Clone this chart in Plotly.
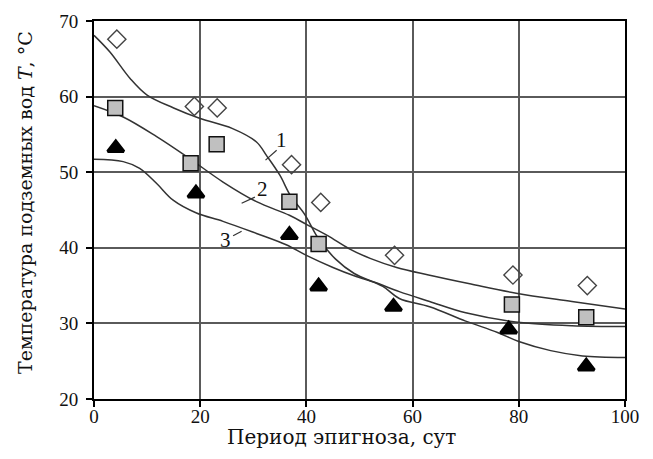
import plotly.graph_objects as go

# Markers
days_diamond = [4.3, 18.9, 23.2, 37.2, 42.7, 56.6, 78.9, 92.9]
temp_diamond = [67.6, 58.7, 58.5, 51.0, 46.0, 39.0, 36.4, 35.0]

days_square = [4.0, 18.2, 23.1, 36.8, 42.3, 78.7, 92.7]
temp_square = [58.5, 51.2, 53.7, 46.1, 40.5, 32.5, 30.8]

days_tri = [4.1, 19.2, 36.8, 42.3, 56.4, 78.1, 92.7]
temp_tri = [53.2, 47.2, 41.7, 34.9, 32.2, 29.2, 24.3]

# Curves (traced)
c1_x = [0, 3, 6.8, 10, 15, 20, 26, 30.6, 32.5, 35, 37, 39.7, 42.2, 45.5, 49, 54.4, 57.5, 63.2, 70, 76, 80, 86, 92, 100]
c1_y = [68.1, 65.9, 62.4, 60.2, 58.5, 57.1, 55.8, 54.0, 52.2, 49.6, 46.9, 44.4, 41.3, 38.5, 36.6, 34.9, 33.3, 32.2, 30.3, 28.8, 27.6, 26.4, 25.7, 25.5]

c2_x = [0, 5.5, 11.8, 18, 24.3, 30.6, 36.8, 40, 44, 48, 52, 57, 63, 71, 79.5, 90, 100]
c2_y = [58.8, 57.3, 54.7, 51.8, 48.7, 46.1, 44.3, 43.1, 41.6, 39.9, 38.6, 37.4, 36.4, 35.2, 34.0, 32.9, 31.9]

c3_x = [0, 5.5, 8.6, 11.8, 14.9, 19.3, 24.3, 30.6, 36.2, 40, 45, 49, 53, 57.5, 63.2, 70, 79.4, 90, 100]
c3_y = [51.7, 51.4, 50.5, 48.5, 46.3, 44.6, 43.5, 41.9, 40.4, 39.0, 37.4, 36.3, 35.4, 34.2, 32.9, 31.4, 30.2, 29.7, 29.6]

# curve labels: (text, x, y of label, leader from, leader to)
labels = ["1", "2", "3"]
label_x = [35.3, 31.7, 24.7]
label_y = [54.3, 47.8, 41.0]
lead_x0 = [34.4, 30.3, 26.2]
lead_y0 = [52.9, 46.7, 41.6]
lead_x1 = [32.3, 27.8, 27.8]
lead_y1 = [51.6, 45.9, 42.2]

x_title = "Период эпигноза, сут"
y_title = "Температура подземных вод <i>T</i>, °C"

LINE = "#333333"
fig = go.Figure()
for cx, cy in [(c1_x, c1_y), (c2_x, c2_y), (c3_x, c3_y)]:
    fig.add_trace(go.Scatter(x=cx, y=cy, mode="lines",
                             line=dict(color=LINE, width=1.5, shape="spline", smoothing=1.0),
                             hoverinfo="skip", showlegend=False))

for lx0, ly0, lx1, ly1 in zip(lead_x0, lead_y0, lead_x1, lead_y1):
    fig.add_trace(go.Scatter(x=[lx0, lx1], y=[ly0, ly1], mode="lines",
                             line=dict(color=LINE, width=1.2), showlegend=False, hoverinfo="skip"))

fig.add_trace(go.Scatter(x=days_diamond, y=temp_diamond, mode="markers",
                         marker=dict(symbol="diamond-open", size=14, color="#444444",
                                     line=dict(width=1.4, color="#444444")),
                         showlegend=False))
fig.add_trace(go.Scatter(x=days_square, y=temp_square, mode="markers",
                         marker=dict(symbol="square", size=15, color="#c0c0c0",
                                     line=dict(width=1.5, color="#111111")),
                         showlegend=False))
fig.add_trace(go.Scatter(x=days_tri, y=temp_tri, mode="markers",
                         marker=dict(symbol="triangle-up", size=14, color="#000000",
                                     line=dict(width=3.2, color="#000000")),
                         showlegend=False))

for t, x, y in zip(labels, label_x, label_y):
    fig.add_annotation(x=x, y=y, text=t, showarrow=False, xanchor="center", yanchor="middle",
                       font=dict(family="Liberation Serif", size=21, color="#111111"))

FONT = "Liberation Serif"
TFONT = "DejaVu Serif"

fig.add_annotation(xref="paper", yref="paper", x=0.467, y=-0.100, text=x_title,
                   showarrow=False, xanchor="center", yanchor="middle",
                   font=dict(family=TFONT, size=20, color="#111111"))
fig.add_annotation(xref="paper", yref="paper", x=-0.130, y=0.521, text=y_title,
                   showarrow=False, xanchor="center", yanchor="middle", textangle=-90,
                   font=dict(family=TFONT, size=19, color="#111111"))

axis_common = dict(showline=True, linecolor="#000000", linewidth=2, mirror=True,
                   showgrid=True, gridcolor="#5a5a5a", gridwidth=2,
                   ticks="outside", ticklen=6, tickwidth=1.5, tickcolor="#000000",
                   tickfont=dict(family=FONT, size=19, color="#111111"),
                   zeroline=False, automargin=False)

fig.update_layout(
    width=653, height=459,
    margin=dict(l=94, r=28, t=21, b=60),
    paper_bgcolor="white", plot_bgcolor="white",
    xaxis=dict(range=[0, 100], dtick=20, tick0=0, ticklabelstandoff=-7, **axis_common),
    yaxis=dict(range=[20, 70], dtick=10, tick0=20, ticklabelstandoff=4, **axis_common),
)

fig.write_html("out.html", config={"displayModeBar": False},
               post_script="document.body.style.margin='0';document.body.style.padding='0';")
